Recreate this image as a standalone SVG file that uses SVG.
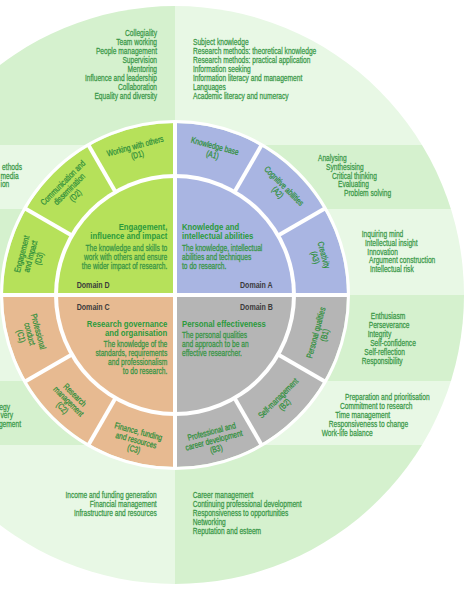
<svg xmlns="http://www.w3.org/2000/svg" width="474" height="598" viewBox="0 0 474 598">
<style>
text{font-family:"Liberation Sans",Arial,sans-serif}
.lst{font-size:8.5px;fill:#3a9848;stroke:#3a9848;stroke-width:.25}
.ttl{font-size:9.8px;font-weight:bold;fill:#2b9a3c}
.dsc{font-size:8.6px;fill:#379545;stroke:#379545;stroke-width:.25}
.dom{font-size:9.5px;font-weight:bold;fill:#3b3b3b}
.lbl{font-size:8.7px;fill:#2e8f3a;stroke:#2e8f3a;stroke-width:.25;text-anchor:middle}
.end{text-anchor:end}
.m{fill:#d5f1ce}
.l{fill:#e8f8e5}
.wl{stroke:#fff;stroke-width:4;fill:none}
</style>
<defs>
<clipPath id="outer"><circle cx="175" cy="295" r="289"/></clipPath>
</defs>
<rect width="474" height="598" fill="#fff"/>
<g id="outer-ring" clip-path="url(#outer)">
<rect class="m" x="-120" y="0" width="295" height="145"/>
<rect class="l" x="-120" y="145" width="295" height="64"/>
<rect class="m" x="-120" y="209" width="295" height="86"/>
<rect class="l" x="-120" y="295" width="295" height="86"/>
<rect class="m" x="-120" y="381" width="295" height="64"/>
<rect class="l" x="-120" y="445" width="295" height="153"/>
<rect class="l" x="175" y="0" width="299" height="145"/>
<rect class="m" x="175" y="145" width="299" height="64"/>
<rect class="l" x="175" y="209" width="299" height="86"/>
<rect class="m" x="175" y="295" width="299" height="86"/>
<rect class="l" x="175" y="381" width="299" height="64"/>
<rect class="m" x="175" y="445" width="299" height="153"/>
</g>
<g id="band">
<path d="M175,295 L3,295 A172,172 0 0 1 175,123 Z" fill="#b6e15a"/>
<path d="M175,295 L175,123 A172,172 0 0 1 347,295 Z" fill="#a9b5e2"/>
<path d="M175,295 L347,295 A172,172 0 0 1 175,467 Z" fill="#b5b5b5"/>
<path d="M175,295 L175,467 A172,172 0 0 1 3,295 Z" fill="#e7ba91"/>
<circle cx="175" cy="295" r="173.5" fill="none" stroke="#fff" stroke-width="3"/>
<circle cx="175" cy="295" r="121" fill="#fff"/>
</g>
<g id="core">
<path id="domain-D" d="M175,295 L58,295 A117,117 0 0 1 175,178 Z" fill="#b6e15a"/>
<path id="domain-A" d="M175,295 L175,178 A117,117 0 0 1 292,295 Z" fill="#a9b5e2"/>
<path id="domain-B" d="M175,295 L292,295 A117,117 0 0 1 175,412 Z" fill="#b5b5b5"/>
<path id="domain-C" d="M175,295 L175,412 A117,117 0 0 1 58,295 Z" fill="#e7ba91"/>
</g>
<g id="dividers" class="wl">
<line x1="175" y1="121" x2="175" y2="469"/>
<line x1="1" y1="295" x2="349" y2="295"/>
<line x1="278.1" y1="235.5" x2="325.7" y2="208"/>
<line x1="234.5" y1="191.9" x2="262" y2="144.3"/>
<line x1="115.5" y1="191.9" x2="88" y2="144.3"/>
<line x1="71.9" y1="235.5" x2="24.3" y2="208"/>
<line x1="71.9" y1="354.5" x2="24.3" y2="382"/>
<line x1="115.5" y1="398.1" x2="88" y2="445.7"/>
<line x1="234.5" y1="398.1" x2="262" y2="445.7"/>
<line x1="278.1" y1="354.5" x2="325.7" y2="382"/>
</g>
<g id="core-D">
<g transform="translate(167.3,0) scale(.79,1)">
<text class="ttl end" y="229.6">Engagement,</text>
<text class="ttl end" y="239.2">influence and impact</text>
</g>
<g transform="translate(167.3,0) scale(.775,1)">
<text class="dsc end" y="251.4">The knowledge and skills to</text>
<text class="dsc end" y="260.2">work with others and ensure</text>
<text class="dsc end" y="269">the wider impact of research.</text>
</g>
<g transform="translate(76.7,0) scale(.745,1)"><text class="dom" y="288">Domain D</text></g>
</g>
<g id="core-A">
<g transform="translate(182,0) scale(.79,1)">
<text class="ttl" y="229.6">Knowledge and</text>
<text class="ttl" y="239.2">intellectual abilities</text>
</g>
<g transform="translate(182,0) scale(.775,1)">
<text class="dsc" y="251.4">The knowledge, intellectual</text>
<text class="dsc" y="260.2">abilities and techniques</text>
<text class="dsc" y="269">to do research.</text>
</g>
<g transform="translate(240,0) scale(.745,1)"><text class="dom" y="288">Domain A</text></g>
</g>
<g id="core-C">
<g transform="translate(76.7,0) scale(.745,1)"><text class="dom" y="310">Domain C</text></g>
<g transform="translate(167.3,0) scale(.79,1)">
<text class="ttl end" y="326.6">Research governance</text>
<text class="ttl end" y="336.2">and organisation</text>
</g>
<g transform="translate(167.3,0) scale(.775,1)">
<text class="dsc end" y="347.4">The knowledge of the</text>
<text class="dsc end" y="356.3">standards, requirements</text>
<text class="dsc end" y="365.2">and professionalism</text>
<text class="dsc end" y="374.1">to do research.</text>
</g>
</g>
<g id="core-B">
<g transform="translate(240,0) scale(.745,1)"><text class="dom" y="310">Domain B</text></g>
<g transform="translate(182,0) scale(.79,1)"><text class="ttl" y="327">Personal effectiveness</text></g>
<g transform="translate(182,0) scale(.775,1)">
<text class="dsc" y="338">The personal qualities</text>
<text class="dsc" y="346.9">and approach to be an</text>
<text class="dsc" y="355.8">effective researcher.</text>
</g>
</g>
<g id="A1" transform="translate(213.8,150.1) rotate(15) scale(.765,1)"><text class="lbl" y="-1.2">Knowledge base</text><text class="lbl" y="7.8">(A1)</text></g>
<g id="A2" transform="translate(281.1,188.9) rotate(45) scale(.765,1)"><text class="lbl" y="-1.2">Cognitive abilities</text><text class="lbl" y="7.8">(A2)</text></g>
<g id="A3" transform="translate(319.9,256.2) rotate(75) scale(.765,1)"><text class="lbl" y="-1.2">Creativity</text><text class="lbl" y="7.8">(A3)</text></g>
<g id="B1" transform="translate(319.9,333.8) rotate(-75) scale(.765,1)"><text class="lbl" y="-1.2">Personal qualities</text><text class="lbl" y="7.8">(B1)</text></g>
<g id="B2" transform="translate(281.1,401.1) rotate(-45) scale(.765,1)"><text class="lbl" y="-1.2">Self-management</text><text class="lbl" y="7.8">(B2)</text></g>
<g id="B3" transform="translate(213.8,439.9) rotate(-15) scale(.765,1)"><text class="lbl" y="-5.7">Professional and</text><text class="lbl" y="3.3">career development</text><text class="lbl" y="12.3">(B3)</text></g>
<g id="C1" transform="translate(30.1,333.8) rotate(75) scale(.765,1)"><text class="lbl" y="-5.7">Professional</text><text class="lbl" y="3.3">conduct</text><text class="lbl" y="12.3">(C1)</text></g>
<g id="C2" transform="translate(68.9,401.1) rotate(45) scale(.765,1)"><text class="lbl" y="-5.7">Research</text><text class="lbl" y="3.3">management</text><text class="lbl" y="12.3">(C2)</text></g>
<g id="C3" transform="translate(136.2,439.9) rotate(15) scale(.765,1)"><text class="lbl" y="-5.7">Finance, funding</text><text class="lbl" y="3.3">and resources</text><text class="lbl" y="12.3">(C3)</text></g>
<g id="D1" transform="translate(136.2,150.1) rotate(-15) scale(.765,1)"><text class="lbl" y="-1.2">Working with others</text><text class="lbl" y="7.8">(D1)</text></g>
<g id="D2" transform="translate(68.9,188.9) rotate(-45) scale(.765,1)"><text class="lbl" y="-5.7">Communication and</text><text class="lbl" y="3.3">dissemination</text><text class="lbl" y="12.3">(D2)</text></g>
<g id="D3" transform="translate(30.1,256.2) rotate(-75) scale(.765,1)"><text class="lbl" y="-5.7">Engagement</text><text class="lbl" y="3.3">and impact</text><text class="lbl" y="12.3">(D3)</text></g>
<g id="list-D1" transform="translate(157,0) scale(.78,1)">
<text class="lst end" y="36.3">Collegiality</text>
<text class="lst end" y="45.2">Team working</text>
<text class="lst end" y="54.1">People management</text>
<text class="lst end" y="63">Supervision</text>
<text class="lst end" y="71.9">Mentoring</text>
<text class="lst end" y="80.8">Influence and leadership</text>
<text class="lst end" y="89.7">Collaboration</text>
<text class="lst end" y="98.6">Equality and diversity</text>
</g>
<g id="list-A1" transform="translate(193,0) scale(.78,1)">
<text class="lst" y="45.2">Subject knowledge</text>
<text class="lst" y="54.1">Research methods: theoretical knowledge</text>
<text class="lst" y="63">Research methods: practical application</text>
<text class="lst" y="71.9">Information seeking</text>
<text class="lst" y="80.8">Information literacy and management</text>
<text class="lst" y="89.7">Languages</text>
<text class="lst" y="98.6">Academic literacy and numeracy</text>
</g>
<g id="list-A2" transform="translate(318,0) scale(.78,1)">
<text class="lst" x="0" y="161">Analysing</text>
<text class="lst" x="10.3" y="169.7">Synthesising</text>
<text class="lst" x="17.9" y="178.6">Critical thinking</text>
<text class="lst" x="25.6" y="187.3">Evaluating</text>
<text class="lst" x="33.3" y="196.2">Problem solving</text>
</g>
<g id="list-A3" transform="translate(361.7,0) scale(.78,1)">
<text class="lst" x="0" y="237">Inquiring mind</text>
<text class="lst" x="4.2" y="245.7">Intellectual insight</text>
<text class="lst" x="7.2" y="254.6">Innovation</text>
<text class="lst" x="9.4" y="263.5">Argument construction</text>
<text class="lst" x="10.6" y="272.2">Intellectual risk</text>
</g>
<g id="list-B1" transform="translate(361.7,0) scale(.78,1)">
<text class="lst" x="11.6" y="319">Enthusiasm</text>
<text class="lst" x="9" y="327.9">Perseverance</text>
<text class="lst" x="7.7" y="336.7">Integrity</text>
<text class="lst" x="10.9" y="346">Self-confidence</text>
<text class="lst" x="3.4" y="355">Self-reflection</text>
<text class="lst" x="0" y="363.8">Responsibility</text>
</g>
<g id="list-B2" transform="translate(321.7,0) scale(.78,1)">
<text class="lst" x="29.9" y="400.3">Preparation and prioritisation</text>
<text class="lst" x="23.5" y="409">Commitment to research</text>
<text class="lst" x="17.4" y="418">Time management</text>
<text class="lst" x="9" y="427">Responsiveness to change</text>
<text class="lst" x="0" y="436.2">Work-life balance</text>
</g>
<g id="list-B3" transform="translate(192.7,0) scale(.78,1)">
<text class="lst" y="498.3">Career management</text>
<text class="lst" y="507.3">Continuing professional development</text>
<text class="lst" y="516.3">Responsiveness to opportunities</text>
<text class="lst" y="525.3">Networking</text>
<text class="lst" y="534.3">Reputation and esteem</text>
</g>
<g id="list-C3" transform="translate(156.7,0) scale(.78,1)">
<text class="lst end" y="498.3">Income and funding generation</text>
<text class="lst end" y="507.3">Financial management</text>
<text class="lst end" y="516.3">Infrastructure and resources</text>
</g>
<g id="list-C2">
<g transform="translate(10,0) scale(.78,1)"><text class="lst end" y="409.7">egy</text></g>
<g transform="translate(13,0) scale(.78,1)"><text class="lst end" y="418.3">very</text></g>
<g transform="translate(21,0) scale(.78,1)"><text class="lst end" y="427">gement</text></g>
</g>
<g id="list-D2">
<g transform="translate(22,0) scale(.78,1)"><text class="lst end" y="170">ethods</text></g>
<g transform="translate(18.6,0) scale(.78,1)"><text class="lst end" y="178.7">media</text></g>
<g transform="translate(9.3,0) scale(.78,1)"><text class="lst end" y="187.3">ion</text></g>
</g>
</svg>
